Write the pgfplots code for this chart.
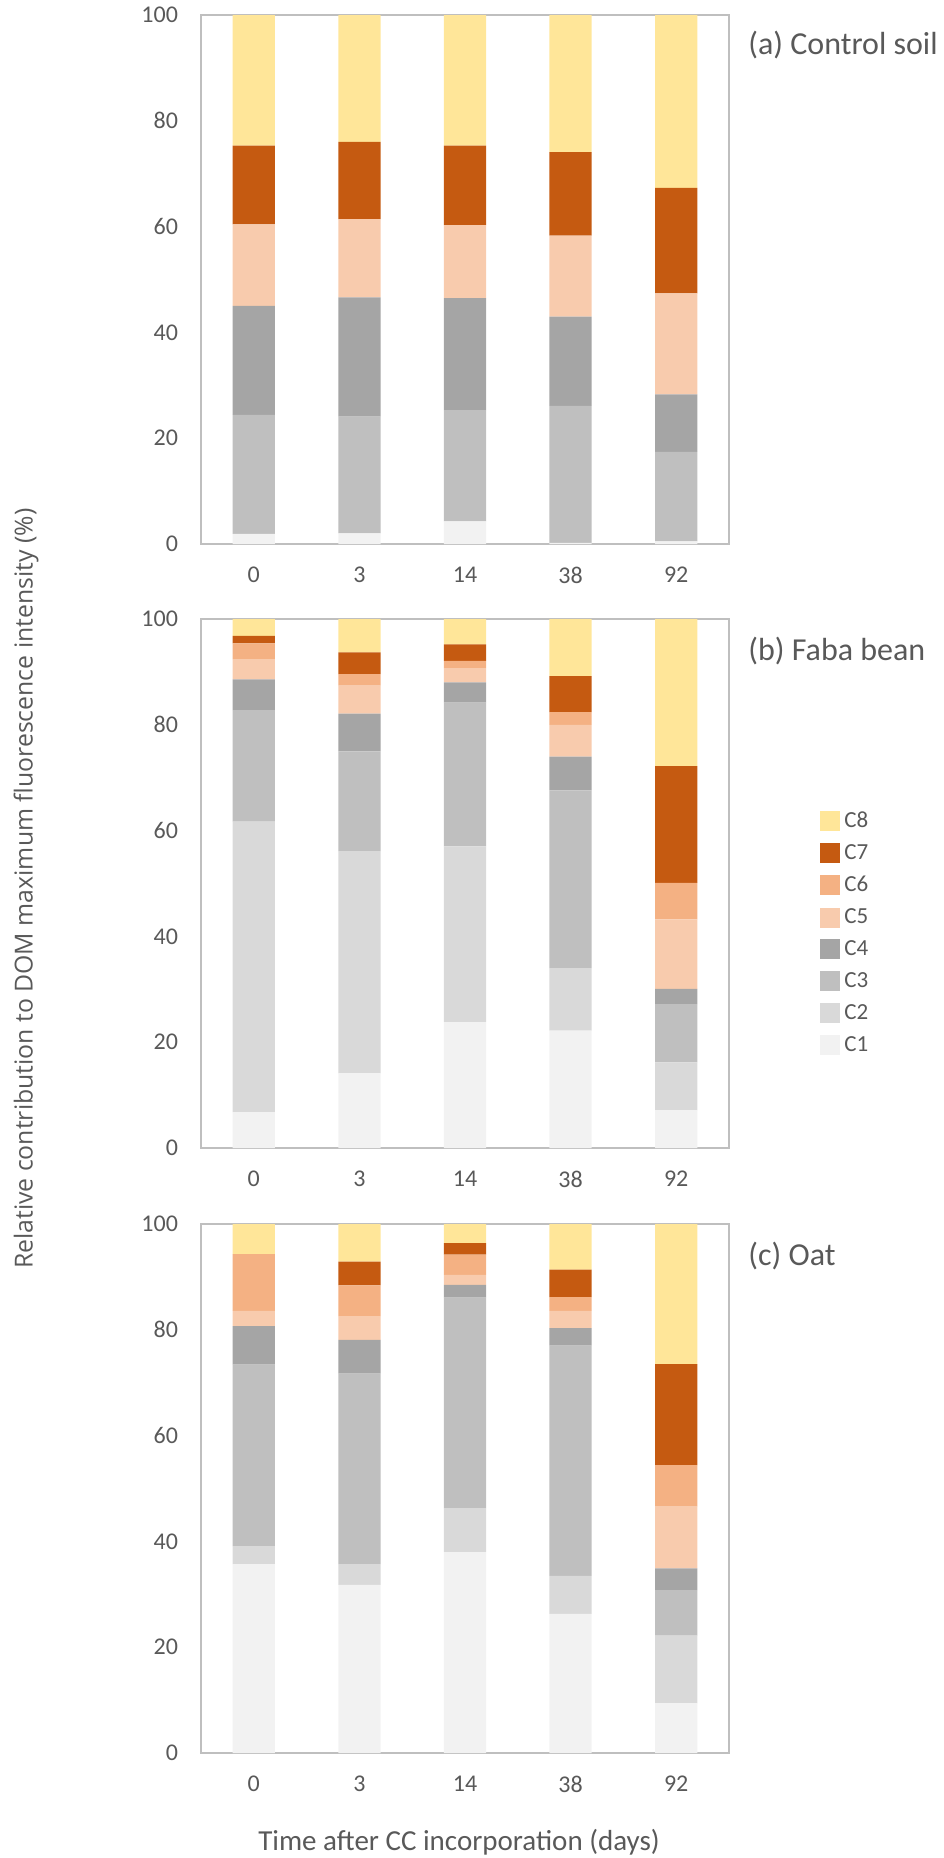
\documentclass[border=0pt]{standalone}
\usepackage{fontspec}
\setmainfont{Carlito}
\newfontfamily\ylabfont{Open Sans}
\usepackage{pgfplots}
\usepackage{pgfplotstable}
\pgfplotsset{compat=1.18}
\definecolor{cA}{HTML}{F2F2F2}
\definecolor{cB}{HTML}{D9D9D9}
\definecolor{cC}{HTML}{BFBFBF}
\definecolor{cD}{HTML}{A5A5A5}
\definecolor{cE}{HTML}{F8CBAD}
\definecolor{cF}{HTML}{F4B183}
\definecolor{cG}{HTML}{C55A11}
\definecolor{cH}{HTML}{FFE699}
\definecolor{txt}{HTML}{595959}
\definecolor{frm}{HTML}{BFBFBF}

\pgfplotstableread{
x C1 C2 C3 C4 C5 C6 C7 C8
0 1.9 0 22.5 20.6 15.4 0 14.9 24.7
1 2.0 0 22.1 22.5 14.8 0 14.6 24.0
2 4.3 0 21.0 21.2 13.8 0 15.0 24.7
3 0.2 0 25.9 16.9 15.3 0 15.8 25.9
4 0.5 0 16.9 10.9 19.1 0 19.9 32.7
}\dataA
\pgfplotstableread{
x C1 C2 C3 C4 C5 C6 C7 C8
0 6.8 54.9 21.1 5.8 3.8 3.0 1.4 3.2
1 14.1 42.0 18.9 7.1 5.3 2.2 4.1 6.3
2 23.8 33.2 27.2 3.8 2.7 1.4 3.1 4.8
3 22.2 11.8 33.6 6.4 6.0 2.4 6.8 10.8
4 7.1 9.1 11.0 2.9 13.1 6.9 22.1 27.8
}\dataB
\pgfplotstableread{
x C1 C2 C3 C4 C5 C6 C7 C8
0 35.7 3.4 34.3 7.3 2.9 10.7 0 5.7
1 31.8 3.9 36.0 6.4 4.5 5.8 4.5 7.1
2 38.0 8.3 39.8 2.4 1.9 3.8 2.2 3.6
3 26.3 7.2 43.5 3.3 3.3 2.6 5.2 8.6
4 9.4 12.8 8.6 4.1 11.7 7.8 19.1 26.5
}\dataC

\pgfplotsset{panel/.style={
  width=264pt, height=264.5pt, scale only axis,
  ybar stacked, bar width=0.4,
  xmin=-0.5, xmax=4.5, ymin=0, ymax=100,
  xtick={0,1,2,3,4}, xticklabels={0,3,14,38,92},
  ytick={0,20,40,60,80,100},
  major tick length=0,
  axis line style={draw=frm, line width=0.75pt},
  tick label style={font=\fontsize{12}{12}\selectfont, text=txt},
  /pgf/number format/assume math mode=true,
  yticklabel style={xshift=-8pt},
  xticklabel style={yshift=-8pt},
  anchor=north west,
  clip=false,
}}

\newcommand{\bars}[1]{%
  \addplot[fill=cA, draw=none] table[x=x,y=C1]{#1};
  \addplot[fill=cB, draw=none] table[x=x,y=C2]{#1};
  \addplot[fill=cC, draw=none] table[x=x,y=C3]{#1};
  \addplot[fill=cD, draw=none] table[x=x,y=C4]{#1};
  \addplot[fill=cE, draw=none] table[x=x,y=C5]{#1};
  \addplot[fill=cF, draw=none] table[x=x,y=C6]{#1};
  \addplot[fill=cG, draw=none] table[x=x,y=C7]{#1};
  \addplot[fill=cH, draw=none] table[x=x,y=C8]{#1};
}

\begin{document}
\begin{tikzpicture}[x=1pt,y=1pt]
\path[use as bounding box] (0,0) rectangle (471.5,-929);
\begin{axis}[panel, at={(100.5pt,-7.5pt)}]
\bars{\dataA}
\node[anchor=west, text=txt, font=\fontsize{16}{16}\selectfont, inner sep=0pt] at ([xshift=9.5pt,yshift=-15pt]rel axis cs:1,1) {(a) Control soil};
\end{axis}
\begin{axis}[panel, at={(100.5pt,-309.5pt)},
  legend style={at={(rel axis cs:1,1)}, anchor=north west, xshift=42.5pt, yshift=-92pt,
    draw=none, fill=none, font=\fontsize{11.5}{11.5}\selectfont, text=txt, row sep=3pt,
    cells={anchor=west},
    /tikz/every even column/.append style={column sep=3pt}},
  reverse legend,
  legend image code/.code={\fill[#1] (0pt,-5pt) rectangle (10pt,5pt);}]
\bars{\dataB}
\legend{C1,C2,C3,C4,C5,C6,C7,C8}
\node[anchor=west, text=txt, font=\fontsize{16}{16}\selectfont, inner sep=0pt] at ([xshift=9.5pt,yshift=-16pt]rel axis cs:1,1) {(b) Faba bean};
\node[rotate=90, text=txt, font=\ylabfont\fontsize{12.4}{12.4}\selectfont, inner sep=0pt] at ([xshift=-87.5pt]rel axis cs:0,0.49) {Relative contribution to DOM maximum fluorescence intensity (\%)};
\end{axis}
\begin{axis}[panel, at={(100.5pt,-612pt)}]
\bars{\dataC}
\node[anchor=west, text=txt, font=\fontsize{16}{16}\selectfont, inner sep=0pt] at ([xshift=9.5pt,yshift=-16pt]rel axis cs:1,1) {(c) Oat};
\node[text=txt, font=\fontsize{14.5}{14.5}\selectfont, inner sep=0pt] at ([xshift=-3pt,yshift=-44.5pt]rel axis cs:0.5,0) {Time after CC incorporation (days)};
\end{axis}
\end{tikzpicture}
\end{document}
